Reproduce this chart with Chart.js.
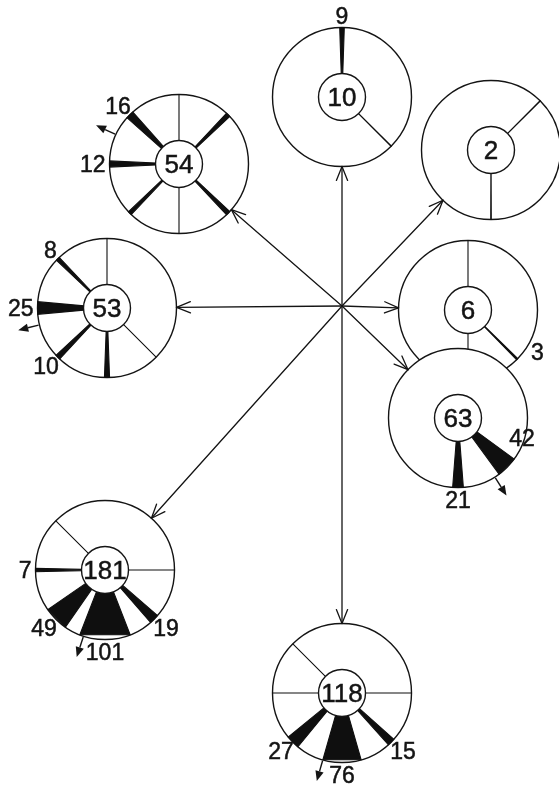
<!DOCTYPE html>
<html><head><meta charset="utf-8">
<script src="https://cdn.jsdelivr.net/npm/chart.js@4/dist/chart.umd.min.js"></script>
<style>html,body{margin:0;padding:0;background:#fff;}canvas{display:block;}</style>
</head><body>
<canvas id="c" width="559" height="789"></canvas>
<script>
// ---- data ----
const directions = ['N', 'NE', 'E', 'SE', 'S', 'SW', 'W', 'NW'];
const directionDeg = [0, 45, 90, 135, 180, 225, 270, 315];
const siteTotals = [54, 10, 2, 6, 63, 53, 181, 118];
const siteX = [179, 342, 491, 468, 458, 107, 105, 342];
const siteY = [164, 97, 150, 310, 418, 308, 570, 693];
const hubX = [342];
const hubY = [306];
// counts per direction (null = no spoke)
const spokes54  = [0, 9, null, 9, 0, 8, 12, 16];
const spokes10  = [9, null, null, 1, null, null, null, null];
const spokes2   = [null, 1, null, null, 1, null, null, null];
const spokes6   = [0, null, null, 3, 0, null, null, null];
const spokes63  = [null, null, null, 42, 21, null, null, null];
const spokes53  = [0, null, null, 0, 10, 10, 25, 8];
const spokes181 = [null, null, 0, 19, 101, 49, 7, 0];
const spokes118 = [null, null, 0, 15, 76, 27, 0, 0];
// directions whose count is printed
const labelled54  = ['W', 'NW'];
const labelled10  = ['N'];
const labelled2   = [];
const labelled6   = ['SE'];
const labelled63  = ['SE', 'S'];
const labelled53  = ['NW', 'W', 'SW'];
const labelled181 = ['W', 'SW', 'S', 'SE'];
const labelled118 = ['SW', 'S', 'SE'];
// mean direction (degrees clockwise from north), null = none
const meanDirection = [295, null, null, null, 148, 256, 198, 196];

const spokes = [spokes54, spokes10, spokes2, spokes6, spokes63, spokes53, spokes181, spokes118];
const labelled = [labelled54, labelled10, labelled2, labelled6, labelled63, labelled53, labelled181, labelled118];

// ---- style ----
const style = {
  outerR: 69.5, innerR: 23.5, degPerCount: 0.42,
  ink: '#141414', wedge: '#0f0f0f',
  circleWidth: 1.4, arrowWidth: 1.3,
  headLen: 15, headAngle: 22,
  innerFont: 26, labelFont: 23,
  family: '"Liberation Sans", Arial, Helvetica, sans-serif',
  labelGap: 4,
  labelNudge: { '4-SE': [3, -38], '3-SE': [13, -16] }
};

const diagramPlugin = {
  id: 'diagram',
  afterDatasetsDraw(chart) {
    const ctx = chart.ctx, xs = chart.scales.x, ys = chart.scales.y;
    const k = Math.abs(xs.getPixelForValue(100) - xs.getPixelForValue(0)) / 100;
    const R = style.outerR * k, r = style.innerR * k;
    const dirv = d => [Math.sin(d * Math.PI / 180), -Math.cos(d * Math.PI / 180)];
    const text = (t, x, y) => {
      ctx.fillText(t, x, y);
      ctx.lineWidth = 0.5; ctx.strokeStyle = style.ink; ctx.strokeText(t, x, y);
    };
    ctx.save();
    ctx.lineJoin = 'miter';
    // sites
    for (let i = 0; i < siteTotals.length; i++) {
      const cx = xs.getPixelForValue(siteX[i]), cy = ys.getPixelForValue(siteY[i]);
      ctx.beginPath(); ctx.arc(cx, cy, R, 0, Math.PI * 2);
      ctx.fillStyle = '#fff'; ctx.fill();
      ctx.lineWidth = style.circleWidth; ctx.strokeStyle = style.ink; ctx.stroke();
      // spokes
      spokes[i].forEach((v, j) => {
        if (v === null) return;
        const half = v * style.degPerCount / 2;
        const a1 = dirv(directionDeg[j] - half), a2 = dirv(directionDeg[j] + half);
        ctx.beginPath();
        ctx.moveTo(cx + a1[0] * r, cy + a1[1] * r);
        ctx.lineTo(cx + a1[0] * R, cy + a1[1] * R);
        ctx.lineTo(cx + a2[0] * R, cy + a2[1] * R);
        ctx.lineTo(cx + a2[0] * r, cy + a2[1] * r);
        ctx.closePath();
        ctx.fillStyle = style.wedge; ctx.fill();
        ctx.lineWidth = 1.1; ctx.strokeStyle = style.wedge; ctx.stroke();
      });
      // inner circle
      ctx.beginPath(); ctx.arc(cx, cy, r, 0, Math.PI * 2);
      ctx.fillStyle = '#fff'; ctx.fill();
      ctx.lineWidth = style.circleWidth; ctx.strokeStyle = style.ink; ctx.stroke();
      ctx.fillStyle = style.ink;
      ctx.font = style.innerFont + 'px ' + style.family;
      ctx.textAlign = 'center'; ctx.textBaseline = 'alphabetic';
      text(String(siteTotals[i]), cx, cy + 0.36 * style.innerFont);
      // labels
      ctx.font = style.labelFont + 'px ' + style.family;
      labelled[i].forEach(name => {
        const j = directions.indexOf(name);
        const txt = String(spokes[i][j]);
        const [s, c] = dirv(directionDeg[j]);
        const w = ctx.measureText(txt).width, h = 0.72 * style.labelFont;
        const ar = R + style.labelGap;
        let bx = cx + s * ar + s * w / 2, by = cy + c * ar + c * h / 2;
        const n = style.labelNudge[i + '-' + name];
        if (n) { bx += n[0]; by += n[1]; }
        text(txt, bx, by + h / 2);
      });
      // mean direction arrow
      if (meanDirection[i] !== null) {
        const [s, c] = dirv(meanDirection[i]);
        const t0 = R + 1, t1 = R + 22, tb = R + 12;
        ctx.beginPath();
        ctx.moveTo(cx + s * t0, cy + c * t0); ctx.lineTo(cx + s * tb, cy + c * tb);
        ctx.lineWidth = 1.4; ctx.strokeStyle = style.ink; ctx.stroke();
        ctx.beginPath();
        ctx.moveTo(cx + s * t1, cy + c * t1);
        ctx.lineTo(cx + s * tb - c * 4.2, cy + c * tb + s * 4.2);
        ctx.lineTo(cx + s * tb + c * 4.2, cy + c * tb - s * 4.2);
        ctx.closePath(); ctx.fillStyle = style.ink; ctx.fill();
      }
    }
    // arrows from hub
    const hx = xs.getPixelForValue(hubX[0]), hy = ys.getPixelForValue(hubY[0]);
    ctx.strokeStyle = style.ink; ctx.lineWidth = style.arrowWidth; ctx.lineCap = 'round';
    for (let i = 0; i < siteTotals.length; i++) {
      const cx = xs.getPixelForValue(siteX[i]), cy = ys.getPixelForValue(siteY[i]);
      const dx = cx - hx, dy = cy - hy, d = Math.hypot(dx, dy);
      const ux = dx / d, uy = dy / d;
      const ex = cx - ux * R, ey = cy - uy * R;
      ctx.beginPath(); ctx.moveTo(hx, hy); ctx.lineTo(ex, ey); ctx.stroke();
      const a = style.headAngle * Math.PI / 180;
      ctx.beginPath();
      for (const sg of [-1, 1]) {
        const ca = Math.cos(sg * a), sa = Math.sin(sg * a);
        const rx = ux * ca - uy * sa, ry = ux * sa + uy * ca;
        ctx.moveTo(ex, ey); ctx.lineTo(ex - rx * style.headLen, ey - ry * style.headLen);
      }
      ctx.stroke();
    }
    ctx.restore();
  }
};

new Chart(document.getElementById('c'), {
  type: 'scatter',
  data: {
    datasets: [{
      label: 'sites',
      data: siteX.map((x, i) => ({ x, y: siteY[i] })),
      pointRadius: 0, showLine: false
    }, {
      label: 'hub',
      data: hubX.map((x, i) => ({ x, y: hubY[i] })),
      pointRadius: 0
    }]
  },
  options: {
    responsive: false, animation: false,
    layout: { padding: 0 },
    plugins: { legend: { display: false }, tooltip: { enabled: false } },
    scales: {
      x: { type: 'linear', min: 0, max: 559, display: false },
      y: { type: 'linear', min: 0, max: 789, reverse: true, display: false }
    }
  },
  plugins: [diagramPlugin]
});
</script>
</body></html>
